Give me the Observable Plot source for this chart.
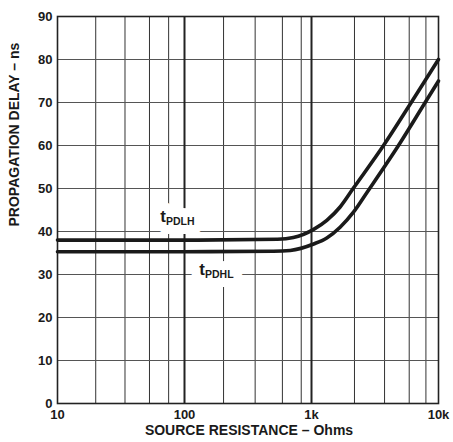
<!DOCTYPE html>
<html><head><meta charset="utf-8">
<script src="https://cdn.jsdelivr.net/npm/d3@7"></script>
<script src="https://cdn.jsdelivr.net/npm/@observablehq/plot@0.6"></script>
<style>body{margin:0;background:#fff;} svg{display:block}</style>
</head><body><div id="chart"></div>
<script>
// Data
const resistanceLH = [10, 100, 540, 720, 1040, 1320, 1680, 2140, 3690, 6100, 10000];
const delayLH      = [38.0, 38.0, 38.2, 38.6, 40.5, 42.6, 45.7, 50.1, 60, 70, 80];
const resistanceHL = [10, 100, 500, 680, 1040, 1320, 1680, 2140, 2750, 4840, 7850, 10000];
const delayHL      = [35.3, 35.3, 35.4, 35.6, 37.1, 38.5, 41, 44.5, 49.2, 60, 70, 75];

const xTicks = [10, 100, 1000, 10000];
const xTickLabels = ["10", "100", "1k", "10k"];
const yTicks = [0, 10, 20, 30, 40, 50, 60, 70, 80, 90];
const gridXMinor = [20, 34, 53, 75, 203, 360, 590, 830, 2180, 3760, 5880, 7960];
const gridXMajor = [100, 1000];
const gridY = [10, 20, 30, 40, 50, 60, 70, 80];

const seriesNames = ["PDLH", "PDHL"];
const labelX = [64.4, 130.6];
const labelY = [42.16, 29.93];

const xTitle = "SOURCE RESISTANCE – Ohms";
const yTitle = "PROPAGATION DELAY – ns";

const lh = resistanceLH.map((r, i) => ({r, d: delayLH[i]}));
const hl = resistanceHL.map((r, i) => ({r, d: delayHL[i]}));
const labels = seriesNames.map((n, i) => ({n, x: labelX[i], y: labelY[i]}));

const font = "'Liberation Sans', Arial, Helvetica, sans-serif";

const tOpts = {x: "x", y: "y", text: () => "t", textAnchor: "start", lineAnchor: "bottom", fontSize: 17, fontWeight: "bold"};
const sOpts = {x: "x", y: "y", text: "n", textAnchor: "start", lineAnchor: "bottom", fontSize: 10.5, fontWeight: "bold", dx: 5.8, dy: 3};

const chart = Plot.plot({
  width: 453,
  height: 442,
  marginLeft: 57,
  marginRight: 15,
  marginTop: 16,
  marginBottom: 39,
  style: {fontFamily: font, fontSize: "13px", fontWeight: "bold", color: "#1a1a1a", background: "#fff"},
  x: {type: "log", domain: [10, 10000]},
  y: {domain: [0, 90]},
  marks: [
    Plot.ruleX(gridXMinor, {stroke: "#333", strokeWidth: 1}),
    Plot.ruleY(gridY, {stroke: "#555", strokeWidth: 1}),
    Plot.ruleX(gridXMajor, {stroke: "#222", strokeWidth: 2}),
    Plot.text(labels, {...tOpts, stroke: "white", strokeWidth: 18, fill: "white", strokeLinejoin: "round"}),
    Plot.text(labels, {...sOpts, stroke: "white", strokeWidth: 18, fill: "white", strokeLinejoin: "round"}),
    Plot.frame({stroke: "#222", strokeWidth: 1.6}),
    Plot.line(lh, {x: "r", y: "d", curve: "monotone-x", stroke: "#1a1a1a", strokeWidth: 3.6}),
    Plot.line(hl, {x: "r", y: "d", curve: "monotone-x", stroke: "#1a1a1a", strokeWidth: 3.6}),
    Plot.text(labels, {...tOpts, fill: "#1a1a1a"}),
    Plot.text(labels, {...sOpts, fill: "#1a1a1a"}),
    Plot.axisX({ticks: xTicks, tickFormat: (d) => xTickLabels[xTicks.indexOf(d)], tickSize: 0, tickPadding: 6, label: null, fontSize: 13}),
    Plot.axisY({ticks: yTicks, tickSize: 0, tickPadding: 5, label: null, fontSize: 13}),
    Plot.text([xTitle], {text: (d) => d, frameAnchor: "bottom", dy: 31, dx: 1, fontSize: 14, fontWeight: "bold"}),
    Plot.text([yTitle], {text: (d) => d, frameAnchor: "left", rotate: -90, dx: -42.5, dy: 16.5, fontSize: 14, fontWeight: "bold"})
  ]
});
document.getElementById("chart").appendChild(chart);
</script>
</body></html>
